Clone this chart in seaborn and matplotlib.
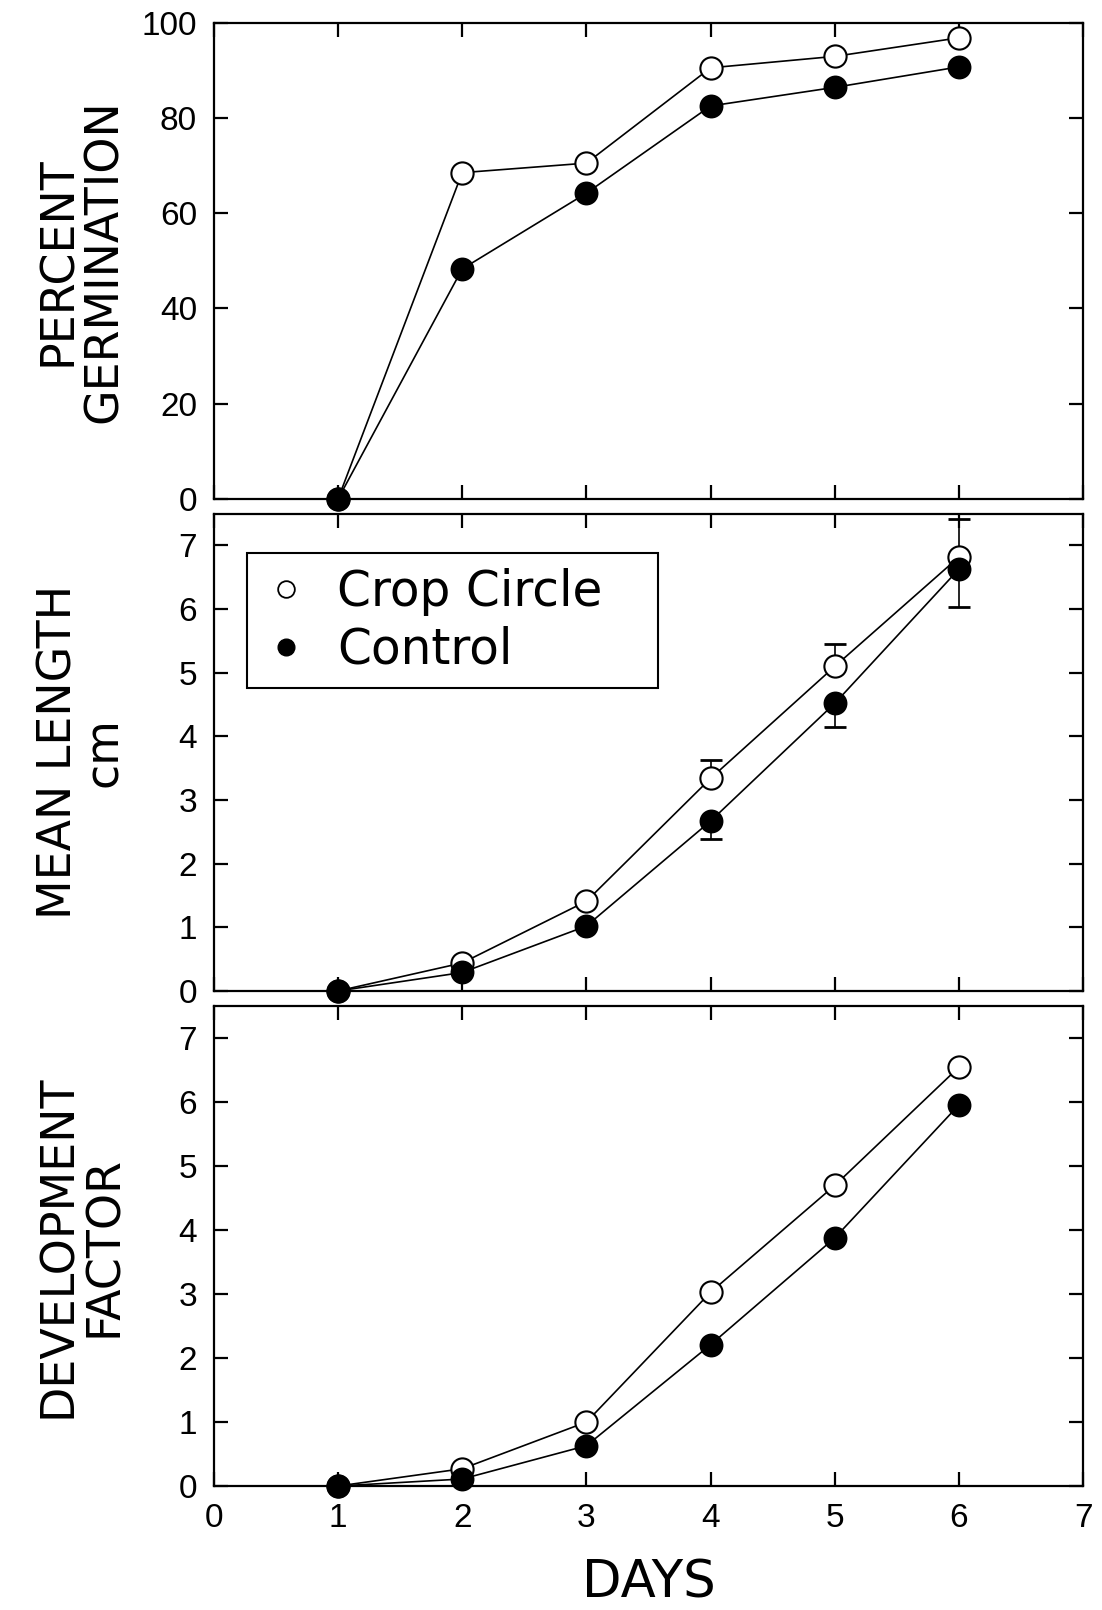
import matplotlib
matplotlib.use("Agg")
import matplotlib.pyplot as plt
import seaborn as sns
import pandas as pd
import numpy as np
from matplotlib.lines import Line2D

days = [1, 2, 3, 4, 5, 6]
germ_crop = [0, 68.5, 70.5, 90.5, 92.9, 96.8]
germ_ctrl = [0, 48.3, 64.2, 82.5, 86.4, 90.7]
len_crop = [0, 0.44, 1.41, 3.34, 5.10, 6.82]
len_ctrl = [0, 0.29, 1.02, 2.67, 4.52, 6.63]
err_days = [4, 5, 6]
len_crop_err = [0.29, 0.35, 0.60]
len_ctrl_err = [0.28, 0.37, 0.60]
dev_crop = [0, 0.27, 1.0, 3.03, 4.70, 6.55]
dev_ctrl = [0, 0.11, 0.63, 2.21, 3.88, 5.96]

series_labels = ["Crop Circle", "Control"]
ylabels = ["PERCENT\nGERMINATION", "MEAN LENGTH\ncm", "DEVELOPMENT\nFACTOR"]
xlabel = "DAYS"

sns.set_theme(style="white")
plt.rcParams['font.family'] = ['DejaVu Sans']
plt.rcParams['text.color'] = 'black'
plt.rcParams['axes.labelcolor'] = 'black'
plt.rcParams['xtick.color'] = 'black'
plt.rcParams['ytick.color'] = 'black'

fig = plt.figure(figsize=(11.02, 16.10), dpi=100)
left, right = 0.194, 0.983
boxes = [(0.690, 0.986), (0.3845, 0.681), (0.077, 0.375)]
axes = [fig.add_axes([left, b, right - left, t - b]) for b, t in boxes]

tickfont = ['Liberation Sans', 'DejaVu Sans']

def draw(ax, crop, ctrl):
    df = pd.DataFrame({"day": days, "crop": crop, "ctrl": ctrl})
    sns.lineplot(data=df, x="day", y="crop", ax=ax, color="black", lw=1.2,
                 marker="o", markersize=16, markerfacecolor="white",
                 markeredgecolor="black", markeredgewidth=1.5, zorder=3, clip_on=False)
    sns.lineplot(data=df, x="day", y="ctrl", ax=ax, color="black", lw=1.2,
                 marker="o", markersize=16, markerfacecolor="black",
                 markeredgecolor="black", markeredgewidth=1.2, zorder=4, clip_on=False)

draw(axes[0], germ_crop, germ_ctrl)
draw(axes[1], len_crop, len_ctrl)
draw(axes[2], dev_crop, dev_ctrl)

# error bars (one-sided)
crop_err_pts = [len_crop[days.index(d)] for d in err_days]
ctrl_err_pts = [len_ctrl[days.index(d)] for d in err_days]
axes[1].errorbar(err_days, crop_err_pts, yerr=[np.zeros(len(err_days)), len_crop_err],
                 fmt='none', ecolor='black', elinewidth=1.2, capsize=8, capthick=2, zorder=2)
axes[1].errorbar(err_days, ctrl_err_pts, yerr=[len_ctrl_err, np.zeros(len(err_days))],
                 fmt='none', ecolor='black', elinewidth=1.2, capsize=8, capthick=2, zorder=2)

ylims = [(0, 100), (0, 7.5), (0, 7.5)]
yticks = [np.arange(0, 101, 20), np.arange(0, 8), np.arange(0, 8)]
for i, ax in enumerate(axes):
    ax.set_xlim(0, 7)
    ax.set_ylim(*ylims[i])
    ax.set_xticks(np.arange(0, 8))
    ax.set_yticks(yticks[i])
    for s in ax.spines.values():
        s.set_linewidth(1.6)
        s.set_color("black")
        s.set_zorder(1)
    ax.tick_params(axis='both', which='major', direction='in', length=10, width=1.6,
                   top=True, right=True, bottom=True, left=True, color='black')
    ax.tick_params(axis='y', pad=12, labelsize=24)
    ax.tick_params(axis='x', pad=12, labelsize=24)
    for lab in ax.get_yticklabels() + ax.get_xticklabels():
        lab.set_family(tickfont)
    if i < 2:
        ax.set_xticklabels([])
    ax.set_xlabel("")
    ax.set_ylabel(ylabels[i], fontsize=33, linespacing=1.02, labelpad=0)
    ax.yaxis.set_label_coords(-0.10, 0.5)
    ax.grid(False)

fig.text(0.589, 0.008, xlabel, fontsize=37, ha='center', va='baseline')

handles = [Line2D([], [], ls='none', marker='o', markersize=12, markerfacecolor='white',
                  markeredgecolor='black', markeredgewidth=1.3),
           Line2D([], [], ls='none', marker='o', markersize=12, markerfacecolor='black',
                  markeredgecolor='black')]
leg_w = 0.4727
leg_h = 0.28
leg = axes[1].legend(handles, series_labels, loc='upper left',
                     bbox_to_anchor=(0.0385, 0.917 - leg_h, leg_w, leg_h), mode='expand',
                     borderaxespad=0, fontsize=35, frameon=True, fancybox=False,
                     handletextpad=0.55, handlelength=1.0, borderpad=0.3, labelspacing=0.2)
leg.get_frame().set_edgecolor('black')
leg.get_frame().set_linewidth(1.5)
leg.get_frame().set_facecolor('white')
leg.get_frame().set_alpha(1)

fig.savefig("out.png", dpi=100, facecolor="white")
